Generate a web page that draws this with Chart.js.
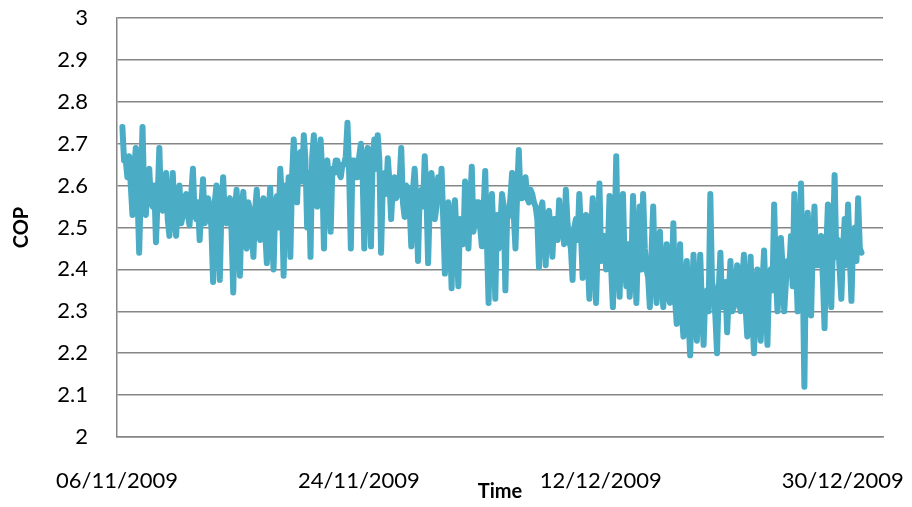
<!DOCTYPE html>
<html>
<head>
<meta charset="utf-8">
<script src="https://cdn.jsdelivr.net/npm/chart.js@4/dist/chart.umd.min.js"></script>
<style>
  html, body { margin: 0; padding: 0; background: #fff; }
</style>
</head>
<body>
<canvas id="cop" width="912" height="507"></canvas>
<script>
// readings every 3 hours, first one ~10am on 06/11/2009
var startDate = Date.UTC(2009, 10, 6);
var firstSampleDay = 0.4;
var sampleStepDays = 0.125;

// COP, 06/11 - 29/11
var copNov = [
  2.74, 2.66, 2.66, 2.62, 2.67, 2.60, 2.53, 2.64, 2.69, 2.58, 2.44, 2.60, 2.74, 2.57, 2.53, 2.63, 2.64, 2.56, 2.55, 2.60,
  2.465, 2.57, 2.69, 2.55, 2.54, 2.58, 2.63, 2.52, 2.48, 2.57, 2.63, 2.53, 2.48, 2.56, 2.60, 2.51, 2.53, 2.57, 2.58, 2.53,
  2.505, 2.58, 2.64, 2.53, 2.52, 2.56, 2.47, 2.55, 2.615, 2.51, 2.52, 2.57, 2.55, 2.50, 2.37, 2.56, 2.60, 2.49, 2.375, 2.55,
  2.62, 2.52, 2.51, 2.56, 2.57, 2.49, 2.345, 2.54, 2.59, 2.50, 2.385, 2.55, 2.585, 2.51, 2.45, 2.56, 2.54, 2.49, 2.43, 2.54,
  2.59, 2.50, 2.47, 2.55, 2.57, 2.49, 2.415, 2.53, 2.595, 2.48, 2.40, 2.55, 2.575, 2.50, 2.64, 2.56, 2.385, 2.60, 2.55, 2.62,
  2.43, 2.62, 2.71, 2.64, 2.56, 2.67, 2.68, 2.61, 2.72, 2.66, 2.50, 2.63, 2.43, 2.67, 2.72, 2.62, 2.55, 2.66, 2.71, 2.63,
  2.45, 2.65, 2.66, 2.61, 2.49, 2.64, 2.63, 2.66, 2.66, 2.63, 2.62, 2.65, 2.65, 2.67, 2.75, 2.63, 2.45, 2.66, 2.66, 2.62,
  2.62, 2.67, 2.70, 2.63, 2.45, 2.66, 2.69, 2.62, 2.455, 2.67, 2.71, 2.64, 2.72, 2.66, 2.44, 2.60, 2.63, 2.58, 2.665, 2.61,
  2.52, 2.60, 2.62, 2.57, 2.58, 2.61, 2.69, 2.56, 2.525, 2.60, 2.59, 2.55, 2.455, 2.59, 2.64, 2.56, 2.42, 2.58, 2.59, 2.55,
  2.67, 2.58, 2.415, 2.56, 2.63, 2.59, 2.52, 2.55, 2.62, 2.57
];

// COP, 29/11 - 31/12
var copDec = [
  2.64, 2.52, 2.39, 2.55, 2.56, 2.48, 2.355, 2.53, 2.565, 2.47,
  2.36, 2.52, 2.50, 2.46, 2.61, 2.53, 2.45, 2.55, 2.645, 2.49, 2.52, 2.56, 2.56, 2.50, 2.455, 2.54, 2.635, 2.47, 2.32, 2.52,
  2.58, 2.47, 2.33, 2.53, 2.45, 2.50, 2.58, 2.55, 2.35, 2.52, 2.53, 2.57, 2.63, 2.53, 2.45, 2.58, 2.685, 2.57, 2.57, 2.60,
  2.62, 2.57, 2.56, 2.59, 2.58, 2.56, 2.55, 2.52, 2.405, 2.54, 2.56, 2.49, 2.41, 2.53, 2.54, 2.48, 2.43, 2.52, 2.52, 2.47,
  2.565, 2.50, 2.50, 2.46, 2.59, 2.51, 2.47, 2.45, 2.375, 2.50, 2.52, 2.47, 2.58, 2.49, 2.38, 2.46, 2.53, 2.43, 2.33, 2.48,
  2.57, 2.44, 2.32, 2.47, 2.605, 2.42, 2.45, 2.48, 2.40, 2.44, 2.575, 2.40, 2.31, 2.47, 2.67, 2.43, 2.335, 2.49, 2.58, 2.42,
  2.36, 2.46, 2.335, 2.41, 2.575, 2.44, 2.32, 2.47, 2.55, 2.40, 2.58, 2.45, 2.40, 2.38, 2.31, 2.44, 2.55, 2.39, 2.32, 2.43,
  2.49, 2.37, 2.31, 2.40, 2.46, 2.34, 2.32, 2.38, 2.51, 2.33, 2.27, 2.36, 2.46, 2.30, 2.24, 2.35, 2.42, 2.29, 2.195, 2.33,
  2.435, 2.30, 2.23, 2.36, 2.435, 2.31, 2.22, 2.34, 2.35, 2.30, 2.58, 2.37, 2.35, 2.29, 2.20, 2.35, 2.44, 2.31, 2.32, 2.37,
  2.25, 2.34, 2.42, 2.30, 2.31, 2.36, 2.41, 2.33, 2.30, 2.37, 2.435, 2.31, 2.24, 2.35, 2.43, 2.29, 2.20, 2.34, 2.40, 2.30,
  2.23, 2.36, 2.445, 2.33, 2.22, 2.38, 2.40, 2.35, 2.555, 2.39, 2.30, 2.36, 2.475, 2.41, 2.30, 2.37, 2.42, 2.40, 2.48, 2.36,
  2.58, 2.42, 2.30, 2.44, 2.605, 2.40, 2.12, 2.45, 2.535, 2.43, 2.29, 2.46, 2.55, 2.41, 2.41, 2.45, 2.48, 2.38, 2.26, 2.44,
  2.555, 2.42, 2.31, 2.46, 2.625, 2.43, 2.47, 2.40, 2.33, 2.45, 2.52, 2.41, 2.555, 2.44, 2.325, 2.47, 2.50, 2.42, 2.57, 2.45,
  2.44
];

var tickDays = [0, 18, 36, 54];
var axisMaxDay = 57;

var copValues = copNov.concat(copDec);
var points = copValues.map(function (v, i) {
  return { x: firstSampleDay + i * sampleStepDays, y: v };
});

function dayLabel(day) {
  var d = new Date(startDate + day * 86400000);
  var dd = String(d.getUTCDate()).padStart(2, "0");
  var mm = String(d.getUTCMonth() + 1).padStart(2, "0");
  return dd + "/" + mm + "/" + d.getUTCFullYear();
}

var gridGrey = "#868686";
var fontFamily = "Lato, 'Open Sans', sans-serif";

var ctx = document.getElementById("cop").getContext("2d");
var myChart = new Chart(ctx, {
  type: "line",
  data: {
    datasets: [
      {
        label: "COP",
        data: points,
        borderColor: "#4BACC6",
        backgroundColor: "#4BACC6",
        borderWidth: 6,
        borderJoinStyle: "round",
        borderCapStyle: "round",
        pointRadius: 0,
        tension: 0,
        fill: false,
      },
    ],
  },
  options: {
    responsive: false,
    animation: false,
    layout: {
      padding: { top: 18, right: 29, bottom: 0, left: 0 },
    },
    scales: {
      x: {
        type: "linear",
        min: 0,
        max: axisMaxDay,
        afterFit: function (scale) {
          scale.height = 70;
          scale.paddingLeft = 0;
          scale.paddingRight = 0;
        },
        afterBuildTicks: function (scale) {
          scale.ticks = tickDays.map(function (d) {
            return { value: d };
          });
        },
        grid: { display: false, drawTicks: false },
        border: { display: true, color: gridGrey, width: 1.5 },
        ticks: {
          autoSkip: false,
          maxRotation: 0,
          padding: 31,
          color: "#000",
          font: { family: fontFamily, size: 22 },
          callback: function (v) {
            return dayLabel(v);
          },
        },
        title: {
          display: true,
          text: "Time",
          color: "#000",
          padding: { top: 0, bottom: 3 },
          font: { family: fontFamily, size: 20, weight: "bold" },
        },
      },
      y: {
        min: 2,
        max: 3,
        afterFit: function (scale) {
          scale.width = 117;
          scale.paddingTop = 0;
          scale.paddingBottom = 0;
        },
        grid: { color: gridGrey, lineWidth: 1.5, drawTicks: false },
        border: { display: true, color: gridGrey, width: 1.5 },
        ticks: {
          stepSize: 0.1,
          padding: 29,
          color: "#000",
          font: { family: fontFamily, size: 22 },
          callback: function (v) {
            return String(Math.round(v * 10) / 10);
          },
        },
        title: {
          display: true,
          text: "COP",
          color: "#000",
          padding: { top: 10, bottom: 0 },
          font: { family: fontFamily, size: 20, weight: "bold" },
        },
      },
    },
    plugins: {
      legend: { display: false },
      tooltip: { enabled: false },
    },
  },
});
</script>
</body>
</html>
